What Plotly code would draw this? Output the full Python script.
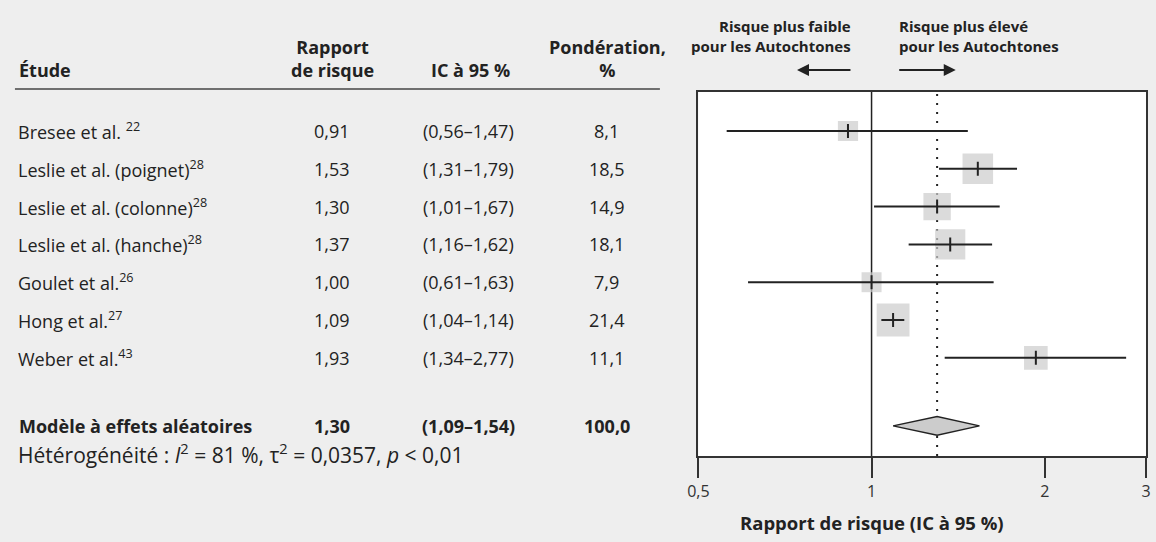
import numpy as np
import plotly.graph_objects as go

# ---- data ----
studies = [
    "Bresee et al. <sup>22</sup>",
    "Leslie et al. (poignet)<sup>28</sup>",
    "Leslie et al. (colonne)<sup>28</sup>",
    "Leslie et al. (hanche)<sup>28</sup>",
    "Goulet et al.<sup>26</sup>",
    "Hong et al.<sup>27</sup>",
    "Weber et al.<sup>43</sup>",
]
hr = [0.91, 1.53, 1.30, 1.37, 1.00, 1.09, 1.93]
ci_low = [0.56, 1.31, 1.01, 1.16, 0.61, 1.04, 1.34]
ci_high = [1.47, 1.79, 1.67, 1.62, 1.63, 1.14, 2.77]
weights = [8.1, 18.5, 14.9, 18.1, 7.9, 21.4, 11.1]

pooled_label = "Modèle à effets aléatoires"
pooled_hr = 1.30
pooled_low = 1.09
pooled_high = 1.54
pooled_weight = 100.0
heterogeneity = "Hétérogénéité : <i>I</i><sup>2</sup> = 81 %, τ<sup>2</sup> = 0,0357, <i>p</i> < 0,01"

tick_vals = [0.5, 1, 2, 3]
tick_text = ["0,5", "1", "2", "3"]

# ---- layout constants ----
W, H = 1156, 542
FONT = "Open Sans"
TXT = "#222222"
BG = "#eeeeee"
rows = list(range(1, len(studies) + 1))
pooled_y = 8.8


def fr(v, d=2):
    return f"{v:.{d}f}".replace(".", ",")


def py(px):
    return 1 - px / H


def pxx(px):
    return px / W


fig = go.Figure()

# squares (size ~ sqrt(weight))
fig.add_trace(go.Scatter(
    x=hr, y=rows, mode="markers",
    marker=dict(symbol="square", color="#cccccc",
                size=[7.1 * np.sqrt(w) for w in weights], line=dict(width=0)),
    hoverinfo="skip", showlegend=False))

# CI lines
cx, cy = [], []
for lo, hi, r in zip(ci_low, ci_high, rows):
    cx += [lo, hi, None]
    cy += [r, r, None]
fig.add_trace(go.Scatter(x=cx, y=cy, mode="lines",
                         line=dict(color=TXT, width=2),
                         hoverinfo="skip", showlegend=False))

# estimate ticks
fig.add_trace(go.Scatter(
    x=hr, y=rows, mode="markers",
    marker=dict(symbol="line-ns-open", size=10, color=TXT,
                line=dict(width=2, color=TXT)),
    hoverinfo="skip", showlegend=False))

# diamond
dh = 0.25
fig.add_trace(go.Scatter(
    x=[pooled_low, pooled_hr, pooled_high, pooled_hr, pooled_low],
    y=[pooled_y, pooled_y - dh, pooled_y, pooled_y + dh, pooled_y],
    mode="lines", fill="toself", fillcolor="#cccccc",
    line=dict(color=TXT, width=1.5),
    hoverinfo="skip", showlegend=False))

# reference lines
fig.add_shape(type="line", xref="x", yref="paper", x0=1, x1=1,
              y0=py(456), y1=py(92), line=dict(color=TXT, width=1.5), layer="below")
fig.add_shape(type="line", xref="x", yref="paper", x0=pooled_hr, x1=pooled_hr,
              y0=py(456), y1=py(92), line=dict(color=TXT, width=2, dash="2px,7px"),
              layer="below")

# header rule
fig.add_shape(type="line", xref="paper", yref="paper", x0=pxx(4), x1=pxx(658),
              y0=py(89), y1=py(89), line=dict(color="#444444", width=1.5))

ann = []
BODY = 18
base = dict(showarrow=False, font=dict(family=FONT, size=BODY, color=TXT))

X_STUDY = 5
X_HR = 325
X_CI = 464
X_W = 604

# table headers
ann.append(dict(base, xref="paper", yref="paper", x=pxx(X_STUDY + 1), y=py(70),
                xanchor="left", yanchor="middle", text="<b>Étude</b>"))
ann.append(dict(base, xref="paper", yref="paper", x=pxx(X_HR + 1), y=py(59),
                xanchor="center", yanchor="middle", text="<b>Rapport<br>de risque</b>"))
ann.append(dict(base, xref="paper", yref="paper", x=pxx(X_CI + 2), y=py(70),
                xanchor="center", yanchor="middle", text="<b>IC à 95 %</b>"))
ann.append(dict(base, xref="paper", yref="paper", x=pxx(X_W + 1), y=py(59),
                xanchor="center", yanchor="middle", text="<b>Pondération,<br>%</b>"))

# rows
for s, h, lo, hi, w, r in zip(studies, hr, ci_low, ci_high, weights, rows):
    ann.append(dict(base, xref="paper", yref="y", x=pxx(X_STUDY), y=r,
                    xanchor="left", yanchor="middle", text=s))
    ann.append(dict(base, xref="paper", yref="y", x=pxx(X_HR), y=r,
                    xanchor="center", yanchor="middle", text=fr(h)))
    ann.append(dict(base, xref="paper", yref="y", x=pxx(X_CI), y=r,
                    xanchor="center", yanchor="middle", text=f"({fr(lo)}–{fr(hi)})"))
    ann.append(dict(base, xref="paper", yref="y", x=pxx(X_W), y=r,
                    xanchor="center", yanchor="middle", text=fr(w, 1)))

# pooled row
ann.append(dict(base, xref="paper", yref="y", x=pxx(X_STUDY + 1), y=pooled_y,
                xanchor="left", yanchor="middle", text=f"<b>{pooled_label}</b>"))
ann.append(dict(base, xref="paper", yref="y", x=pxx(X_HR), y=pooled_y,
                xanchor="center", yanchor="middle", text=f"<b>{fr(pooled_hr)}</b>"))
ann.append(dict(base, xref="paper", yref="y", x=pxx(X_CI), y=pooled_y,
                xanchor="center", yanchor="middle",
                text=f"<b>({fr(pooled_low)}–{fr(pooled_high)})</b>"))
ann.append(dict(base, xref="paper", yref="y", x=pxx(X_W), y=pooled_y,
                xanchor="center", yanchor="middle", text=f"<b>{fr(pooled_weight, 1)}</b>"))
ann.append(dict(showarrow=False, font=dict(family=FONT, size=21, color=TXT),
                xref="paper", yref="paper", x=pxx(X_STUDY), y=py(453),
                xanchor="left", yanchor="middle", text=heterogeneity))

# direction labels
hf = dict(family=FONT, size=15, color=TXT)
ann.append(dict(showarrow=False, font=hf, xref="paper", yref="paper",
                x=pxx(854), y=py(36), xanchor="right", yanchor="middle", align="right",
                text="<b>Risque plus faible<br>pour les Autochtones</b>"))
ann.append(dict(showarrow=False, font=hf, xref="paper", yref="paper",
                x=pxx(898), y=py(36), xanchor="left", yanchor="middle", align="left",
                text="<b>Risque plus élevé<br>pour les Autochtones</b>"))
# arrows
ann.append(dict(xref="paper", yref="paper", x=pxx(797), y=py(70), text="",
                showarrow=True, ax=55, ay=0, arrowhead=2, arrowsize=1.2,
                arrowwidth=2, arrowcolor=TXT, standoff=0))
ann.append(dict(xref="paper", yref="paper", x=pxx(958), y=py(70), text="",
                showarrow=True, ax=-58, ay=0, arrowhead=2, arrowsize=1.2,
                arrowwidth=2, arrowcolor=TXT, standoff=0))

# axis title
ann.append(dict(showarrow=False, font=dict(family=FONT, size=18.5, color=TXT),
                xref="x", yref="paper", x=0, y=py(522),
                xanchor="center", yanchor="middle",
                text="<b>Rapport de risque (IC à 95 %)</b>"))

fig.update_layout(
    width=W, height=H,
    margin=dict(l=0, r=0, t=0, b=0),
    paper_bgcolor=BG, plot_bgcolor="white",
    font=dict(family=FONT, color=TXT),
    annotations=ann,
    showlegend=False,
    xaxis=dict(type="log", domain=[pxx(697), pxx(1151)],
               range=[np.log10(0.5), np.log10(3)],
               tickvals=tick_vals, ticktext=tick_text,
               ticks="outside", ticklen=20, tickwidth=1.5, tickcolor="#333333",
               ticklabeloverflow="allow",
               showline=True, linecolor="#333333", linewidth=1.5, mirror=True,
               showgrid=False, zeroline=False,
               tickfont=dict(family=FONT, size=16, color="#333333")),
    yaxis=dict(domain=[py(456), py(92)], range=[9.597, -0.032],
               showticklabels=False, ticks="", showgrid=False, zeroline=False,
               showline=True, linecolor="#333333", linewidth=1.5, mirror=True),
)

fig.write_html("out.html", config={"displayModeBar": False},
               post_script="document.body.style.margin='0';document.body.style.overflow='hidden';")
